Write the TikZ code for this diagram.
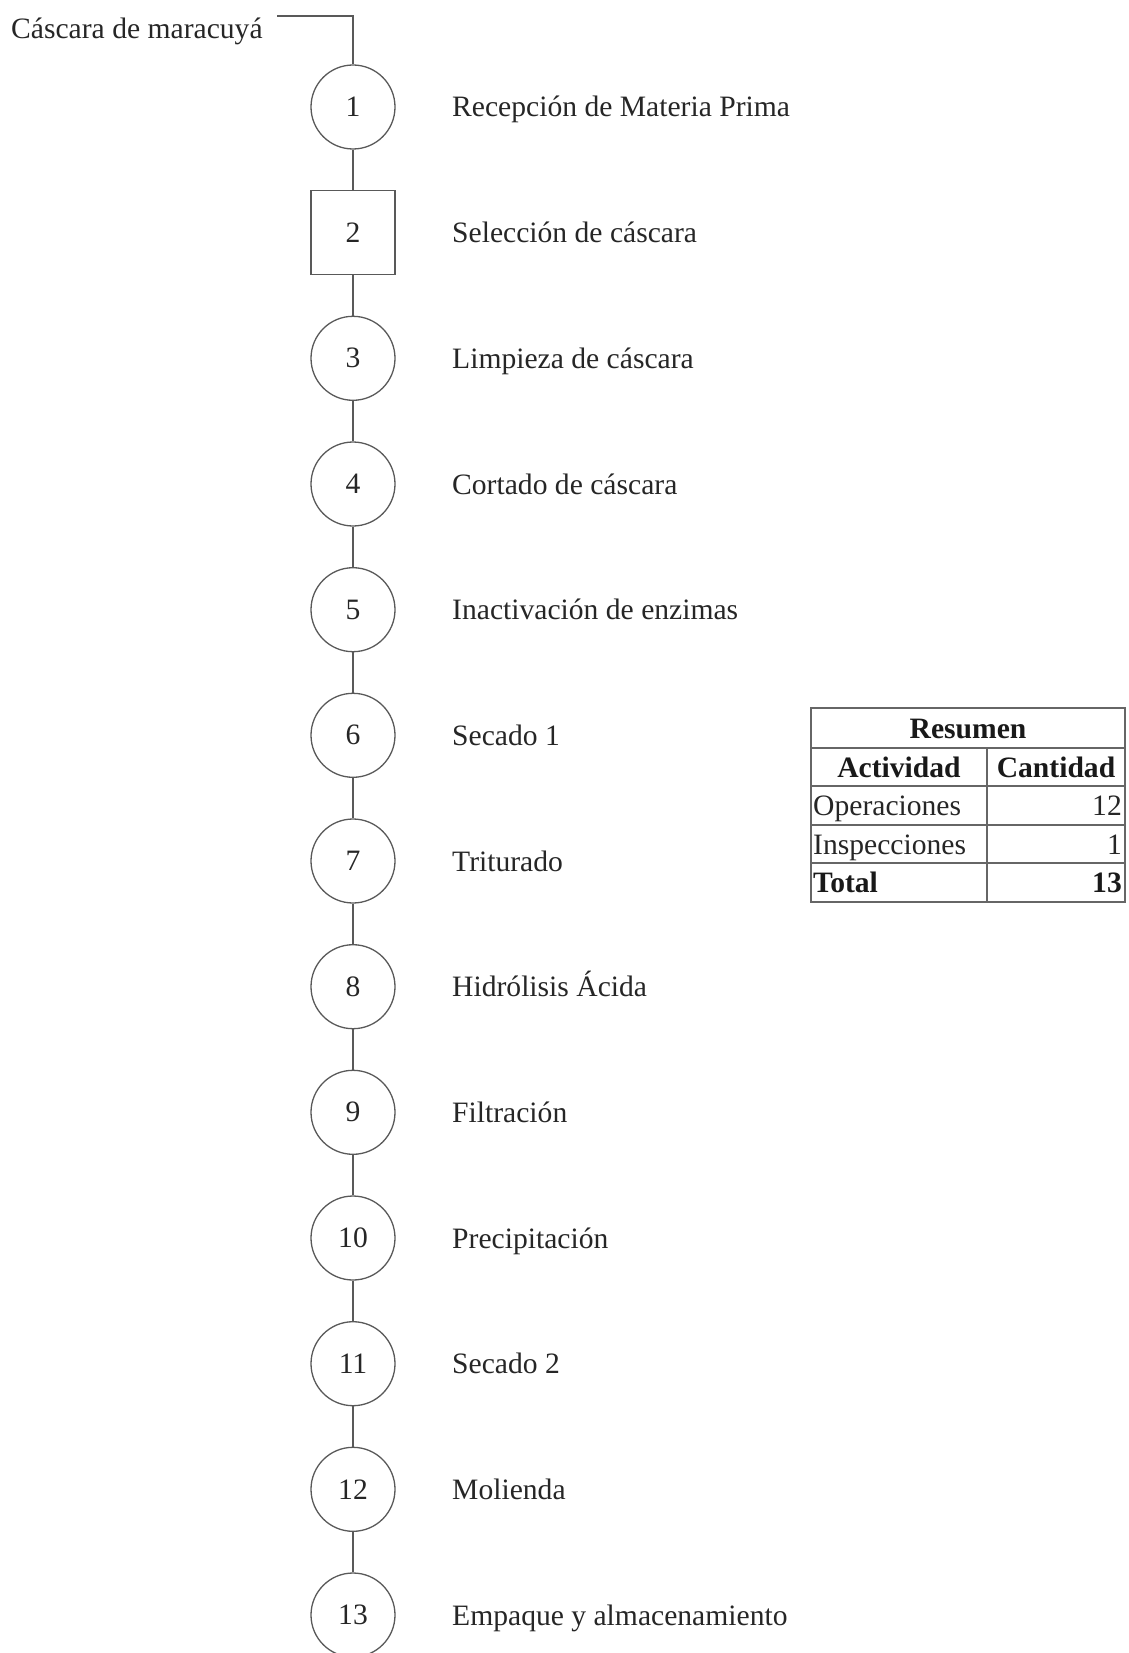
\documentclass[tikz,border=0pt]{standalone}
\usepackage{fontspec}
\setmainfont{Liberation Serif}
\begin{document}
\begin{tikzpicture}[x=1pt,y=-1pt,
  txt/.style={font=\fontsize{29.6}{33}\selectfont, text=black!85, inner sep=0pt},
  btxt/.style={font=\fontsize{29.6}{33}\selectfont\bfseries, text=black!90, inner sep=0pt},
  opcircle/.style={circle, draw=black!65, line width=1.3pt, minimum size=84pt, inner sep=0pt, font=\fontsize{29.6}{33}\selectfont, text=black!85},
  inspbox/.style={rectangle, draw=black!65, line width=1.3pt, minimum size=84pt, inner sep=0pt, font=\fontsize{29.6}{33}\selectfont, text=black!85},
  flow/.style={draw=black!65, line width=1.3pt},
  tline/.style={draw=black!60, line width=1.3pt}]
\useasboundingbox (0,0) rectangle (1128,1653);
\clip (0,0) rectangle (1128,1653);
% start text and connector
\node[txt, anchor=base west] (start) at (11,39) {Cáscara de maracuyá};
\coordinate (s0) at (277,16);
% process shapes
\node[opcircle] (c1) at (353,107) {1};
\node[inspbox] (c2) at (353,232.7) {2};
\node[opcircle] (c3) at (353,358.3) {3};
\node[opcircle] (c4) at (353,484) {4};
\node[opcircle] (c5) at (353,609.7) {5};
\node[opcircle] (c6) at (353,735.3) {6};
\node[opcircle] (c7) at (353,861) {7};
\node[opcircle] (c8) at (353,986.7) {8};
\node[opcircle] (c9) at (353,1112.3) {9};
\node[opcircle] (c10) at (353,1238) {10};
\node[opcircle] (c11) at (353,1363.7) {11};
\node[opcircle] (c12) at (353,1489.3) {12};
\node[opcircle] (c13) at (353,1615) {13};
% labels
\node[txt, anchor=base west] (l1) at (452,117) {Recepción de Materia Prima};
\node[txt, anchor=base west] (l2) at (452,242.7) {Selección de cáscara};
\node[txt, anchor=base west] (l3) at (452,368.3) {Limpieza de cáscara};
\node[txt, anchor=base west] (l4) at (452,494) {Cortado de cáscara};
\node[txt, anchor=base west] (l5) at (452,619.7) {Inactivación de enzimas};
\node[txt, anchor=base west] (l6) at (452,745.3) {Secado 1};
\node[txt, anchor=base west] (l7) at (452,871) {Triturado};
\node[txt, anchor=base west] (l8) at (452,996.7) {Hidrólisis Ácida};
\node[txt, anchor=base west] (l9) at (452,1122.3) {Filtración};
\node[txt, anchor=base west] (l10) at (452,1248) {Precipitación};
\node[txt, anchor=base west] (l11) at (452,1373.7) {Secado 2};
\node[txt, anchor=base west] (l12) at (452,1499.3) {Molienda};
\node[txt, anchor=base west] (l13) at (452,1625) {Empaque y almacenamiento};
% connectors
\draw[flow] (s0) -| (c1.north);
\foreach \a/\b in {c1/c2,c2/c3,c3/c4,c4/c5,c5/c6,c6/c7,c7/c8,c8/c9,c9/c10,c10/c11,c11/c12,c12/c13}
  \draw[flow] (\a) -- (\b);
% summary table
\coordinate (tA) at (811,708);
\coordinate (tB) at (1125,902);
\draw[tline] (tA) rectangle (tB);
\draw[tline] (811,748) -- (1125,748);
\draw[tline] (811,786) -- (1125,786);
\draw[tline] (811,825) -- (1125,825);
\draw[tline] (811,863) -- (1125,863);
\draw[tline] (987,748) -- (987,902);
\node[btxt, anchor=base] (tres) at (968,738) {Resumen};
\node[btxt, anchor=base] (tact) at (899,777) {Actividad};
\node[btxt, anchor=base] (tcan) at (1056,777) {Cantidad};
\node[txt, anchor=base west] (top) at (813,815.5) {Operaciones};
\node[txt, anchor=base east] (topn) at (1122,815.5) {12};
\node[txt, anchor=base west] (tins) at (813,854) {Inspecciones};
\node[txt, anchor=base east] (tinsn) at (1122,854) {1};
\node[btxt, anchor=base west] (ttot) at (813,892.5) {Total};
\node[btxt, anchor=base east] (ttotn) at (1122,892.5) {13};
\end{tikzpicture}
\end{document}
